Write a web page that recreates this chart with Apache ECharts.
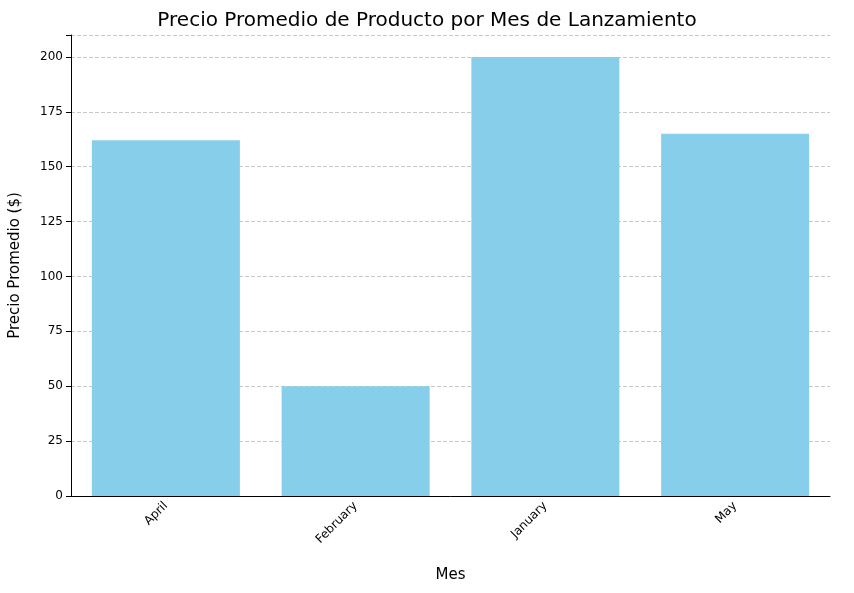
<!DOCTYPE html>
<html><head><meta charset="utf-8">
<script src="https://cdn.jsdelivr.net/npm/echarts@6/dist/echarts.min.js"></script>
<style>html,body{margin:0;padding:0;background:#fff}#c{width:854px;height:593px}</style>
</head><body><div id="c"></div>
<script>
const categories = ["April","February","January","May"];
const values = [162, 50, 200, 165];
const yTicks = [0,25,50,75,100,125,150,175,200];
const chart = echarts.init(document.getElementById('c'));
chart.setOption({
  animation:false,
  title:{text:"Precio Promedio de Producto por Mes de Lanzamiento",left:'center',top:6,textStyle:{fontFamily:'DejaVu Sans',fontSize:20,fontWeight:'normal',color:'#000'}},
  grid:{left:70,right:24,top:35,bottom:97},
  xAxis:{type:'category',data:categories,
    name:'Mes',nameLocation:'middle',nameGap:72,nameTextStyle:{fontFamily:'DejaVu Sans',fontSize:15,color:'#000'},
    axisLine:{lineStyle:{color:'#000'}},axisTick:{alignWithLabel:true,lineStyle:{color:'#000'}},
    axisLabel:{rotate:45,fontFamily:'DejaVu Sans',fontSize:12,color:'#000'}},
  yAxis:{type:'value',min:0,max:210,interval:25,
    name:'Precio Promedio ($)',nameLocation:'middle',nameGap:48,nameTextStyle:{fontFamily:'DejaVu Sans',fontSize:15,color:'#000'},
    axisLine:{show:true,lineStyle:{color:'#000'}},axisTick:{show:true,lineStyle:{color:'#000'}},
    axisLabel:{fontFamily:'DejaVu Sans',fontSize:12,color:'#000',formatter:v=>yTicks.includes(v)?String(v):''},
    splitLine:{show:true,lineStyle:{type:'dashed',color:'#c8c8c8'}}},
  series:[{type:'bar',data:values,barWidth:148,itemStyle:{color:'#87CEEB'}}]
});
</script></body></html>
